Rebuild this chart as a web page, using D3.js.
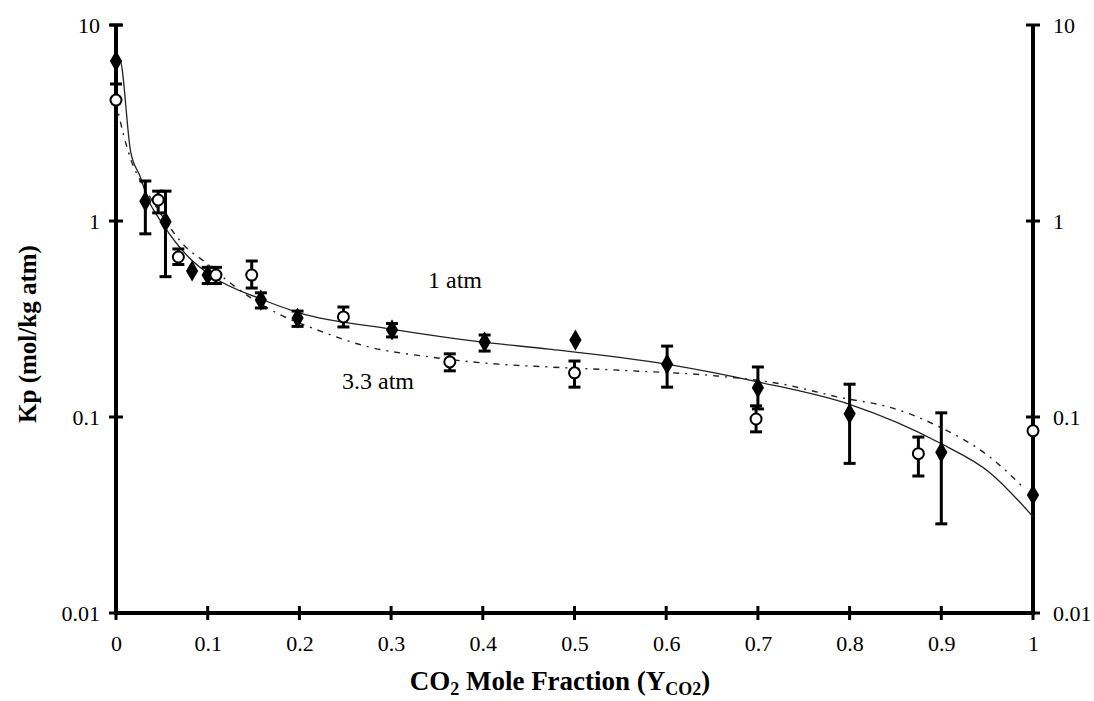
<!DOCTYPE html>
<html>
<head>
<meta charset="utf-8">
<script src="https://cdn.jsdelivr.net/npm/d3@7"></script>
<style>
  body { margin: 0; background: #fff; }
  svg text { font-family: "Liberation Serif", "DejaVu Serif", serif; fill: #000; }
</style>
</head>
<body>
<div id="chart"></div>
<script>
// 1 atm (filled diamonds): x, Kp, lower, upper
const oneAtmX   = [0, 0.032, 0.054, 0.083, 0.10, 0.158, 0.198, 0.301, 0.402, 0.501, 0.601, 0.700, 0.800, 0.900, 1.0];
const oneAtmKp  = [6.55, 1.26, 0.99, 0.556, 0.53, 0.395, 0.32, 0.278, 0.241, 0.247, 0.186, 0.141, 0.104, 0.066, 0.040];
const oneAtmLo  = [5.0, 0.86, 0.52, 0.556, 0.48, 0.36, 0.29, 0.256, 0.217, 0.247, 0.142, 0.11, 0.058, 0.0285, 0.040];
const oneAtmHi  = [10, 1.6, 1.42, 0.556, 0.58, 0.43, 0.347, 0.30, 0.262, 0.247, 0.230, 0.18, 0.147, 0.105, 0.040];

// 3.3 atm (open circles)
const highAtmX  = [0, 0.046, 0.068, 0.109, 0.148, 0.248, 0.364, 0.500, 0.698, 0.875, 1.0];
const highAtmKp = [4.14, 1.28, 0.655, 0.53, 0.53, 0.324, 0.191, 0.168, 0.0977, 0.065, 0.085];
const highAtmLo = [4.14, 1.1, 0.60, 0.48, 0.455, 0.288, 0.172, 0.142, 0.084, 0.05, 0.085];
const highAtmHi = [4.14, 1.42, 0.72, 0.58, 0.625, 0.364, 0.21, 0.193, 0.114, 0.079, 0.085];

// fitted curves
const fit1X  = [0, 0.004, 0.016, 0.026, 0.035, 0.051, 0.079, 0.106, 0.158, 0.2, 0.3, 0.4, 0.472, 0.6, 0.7, 0.8, 0.9, 0.953, 1.0];
const fit1Kp = [6.7, 6.7, 2.25, 1.70, 1.29, 0.965, 0.655, 0.518, 0.40, 0.34, 0.281, 0.241, 0.222, 0.186, 0.151, 0.116, 0.073, 0.052, 0.031];
const fit3X  = [0, 0.008, 0.016, 0.032, 0.051, 0.075, 0.097, 0.126, 0.177, 0.217, 0.272, 0.344, 0.417, 0.472, 0.563, 0.655, 0.727, 0.789, 0.844, 0.898, 0.953, 0.991];
const fit3Kp = [4.05, 2.78, 2.07, 1.46, 1.05, 0.745, 0.618, 0.477, 0.336, 0.281, 0.230, 0.202, 0.186, 0.18, 0.172, 0.162, 0.147, 0.126, 0.112, 0.089, 0.0625, 0.043];

const xTicks = [0, 0.1, 0.2, 0.3, 0.4, 0.5, 0.6, 0.7, 0.8, 0.9, 1];
const xTickLabels = ["0", "0.1", "0.2", "0.3", "0.4", "0.5", "0.6", "0.7", "0.8", "0.9", "1"];
const yTicks = [0.01, 0.1, 1, 10];
const yTickLabels = ["0.01", "0.1", "1", "10"];

const width = 1094, height = 701;
const svg = d3.select("#chart").append("svg")
  .attr("width", width).attr("height", height);

const x = d3.scaleLinear().domain([0, 1]).range([116, 1033]);
const y = d3.scaleLog().domain([0.01, 10]).range([613, 25]);

// axes (thick frame lines on left, right and bottom)
const axisG = svg.append("g");
axisG.append("line").attr("x1", x(0)).attr("x2", x(0)).attr("y1", y(10)).attr("y2", y(0.01))
  .attr("stroke", "#000").attr("stroke-width", 4);
axisG.append("line").attr("x1", x(1)).attr("x2", x(1)).attr("y1", y(10)).attr("y2", y(0.01))
  .attr("stroke", "#000").attr("stroke-width", 4);
axisG.append("line").attr("x1", x(0) - 2).attr("x2", x(1) + 2).attr("y1", y(0.01)).attr("y2", y(0.01))
  .attr("stroke", "#000").attr("stroke-width", 4);

// crossing tick marks
[x(0), x(1)].forEach(ax => {
  axisG.selectAll(null).data(yTicks).enter().append("line")
    .attr("x1", ax - 7).attr("x2", ax + 7)
    .attr("y1", d => y(d)).attr("y2", d => y(d))
    .attr("stroke", "#000").attr("stroke-width", 3);
});
axisG.selectAll(null).data(xTicks).enter().append("line")
  .attr("x1", d => x(d)).attr("x2", d => x(d))
  .attr("y1", y(0.01) - 7).attr("y2", y(0.01) + 7)
  .attr("stroke", "#000").attr("stroke-width", 3);

// tick labels through d3 axes
const yLeft = d3.axisLeft(y).tickValues(yTicks).tickSize(0).tickPadding(16)
  .tickFormat((d, i) => yTickLabels[i]);
const yRight = d3.axisRight(y).tickValues(yTicks).tickSize(0).tickPadding(20)
  .tickFormat((d, i) => yTickLabels[i]);
const xBottom = d3.axisBottom(x).tickValues(xTicks).tickSize(0).tickPadding(22)
  .tickFormat((d, i) => xTickLabels[i]);

[[yLeft, `translate(${x(0)},0)`], [yRight, `translate(${x(1)},0)`], [xBottom, `translate(0,${y(0.01)})`]]
  .forEach(([ax, tr]) => {
    const g = svg.append("g").attr("transform", tr).call(ax)
      .attr("font-family", "'Liberation Serif', serif")
      .attr("font-size", 22);
    g.select(".domain").remove();
  });

// fitted curves
const line = d3.line().x(d => x(d[0])).y(d => y(d[1])).curve(d3.curveMonotoneX);
svg.append("path").datum(d3.zip(fit1X, fit1Kp))
  .attr("d", line).attr("fill", "none")
  .attr("stroke", "#222").attr("stroke-width", 1.3);
svg.append("path").datum(d3.zip(fit3X, fit3Kp))
  .attr("d", line).attr("fill", "none")
  .attr("stroke", "#222").attr("stroke-width", 1.4)
  .attr("stroke-dasharray", "6,6,2,6");

// error bars
function errorBars(xs, los, his) {
  const g = svg.append("g");
  const data = d3.zip(xs, los, his).filter(d => d[1] !== d[2]);
  g.selectAll(null).data(data).enter().append("line")
    .attr("x1", d => x(d[0])).attr("x2", d => x(d[0]))
    .attr("y1", d => y(d[1])).attr("y2", d => y(d[2]))
    .attr("stroke", "#000").attr("stroke-width", 3);
  [1, 2].forEach(k => {
    g.selectAll(null).data(data).enter().append("line")
      .attr("x1", d => x(d[0]) - 6).attr("x2", d => x(d[0]) + 6)
      .attr("y1", d => y(d[k])).attr("y2", d => y(d[k]))
      .attr("stroke", "#000").attr("stroke-width", 3);
  });
}
errorBars(oneAtmX, oneAtmLo, oneAtmHi);
errorBars(highAtmX, highAtmLo, highAtmHi);

// markers
const diamond = d3.symbol().type(d3.symbolDiamond).size(130);
svg.append("g").selectAll("path").data(d3.zip(oneAtmX, oneAtmKp)).enter().append("path")
  .attr("d", diamond)
  .attr("transform", d => `translate(${x(d[0])},${y(d[1])})`)
  .attr("fill", "#000");

svg.append("g").selectAll("circle").data(d3.zip(highAtmX, highAtmKp)).enter().append("circle")
  .attr("cx", d => x(d[0])).attr("cy", d => y(d[1])).attr("r", 5.5)
  .attr("fill", "#fff").attr("stroke", "#000").attr("stroke-width", 2);

// curve labels
svg.append("text").attr("x", 455).attr("y", 288).attr("text-anchor", "middle")
  .style("font-size", "24px").text("1 atm");
svg.append("text").attr("x", 378).attr("y", 389).attr("text-anchor", "middle")
  .style("font-size", "24px").text("3.3 atm");

// axis titles
svg.append("text")
  .attr("transform", `translate(36,334) rotate(-90)`)
  .attr("text-anchor", "middle")
  .style("font-size", "25px").style("font-weight", "bold")
  .text("Kp (mol/kg atm)");

const xt = svg.append("text").attr("x", 560).attr("y", 690).attr("text-anchor", "middle")
  .style("font-size", "27px").style("font-weight", "bold");
xt.append("tspan").text("CO");
xt.append("tspan").attr("dy", 5).style("font-size", "18px").text("2");
xt.append("tspan").attr("dy", -5).text(" Mole Fraction (Y");
xt.append("tspan").attr("dy", 5).style("font-size", "18px").text("CO2");
xt.append("tspan").attr("dy", -5).text(")");
</script>
</body>
</html>
